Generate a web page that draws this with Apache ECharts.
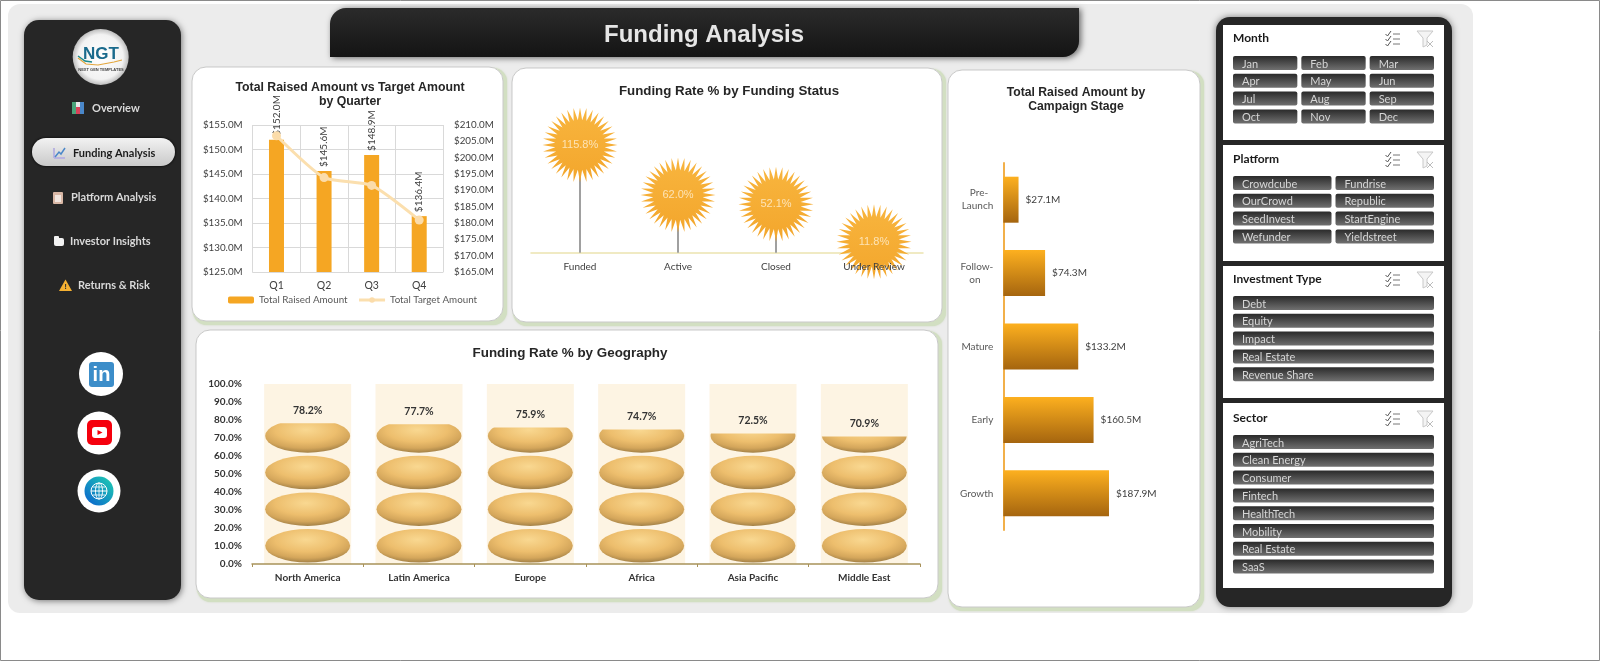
<!DOCTYPE html>
<html>
<head>
<meta charset="utf-8">
<title>Funding Analysis</title>
<script src="https://cdn.jsdelivr.net/npm/echarts@6/dist/echarts.min.js"></script>
<style>
  html, body { margin: 0; padding: 0; background: #fff; }
  #main { width: 1600px; height: 661px; }
</style>
</head>
<body>
<div id="main"></div>
<script>
const quarters = ["Q1", "Q2", "Q3", "Q4"];
const raisedByQuarter = [152.0, 145.6, 148.9, 136.4];
const targetByQuarter = [206.7, 193.9, 191.5, 180.9];

const statuses = ["Funded", "Active", "Closed", "Under Review"];
const statusRates = [115.8, 62.0, 52.1, 11.8];

const regions = ["North America", "Latin America", "Europe", "Africa", "Asia Pacific", "Middle East"];
const regionRates = [78.2, 77.7, 75.9, 74.7, 72.5, 70.9];

const stages = ["Pre-\nLaunch", "Follow-\non", "Mature", "Early", "Growth"];
const stageRaised = [27.1, 74.3, 133.2, 160.5, 187.9];

const months = ["Jan", "Feb", "Mar", "Apr", "May", "Jun", "Jul", "Aug", "Sep", "Oct", "Nov", "Dec"];
const platforms = ["Crowdcube", "Fundrise", "OurCrowd", "Republic", "SeedInvest", "StartEngine", "Wefunder", "Yieldstreet"];
const investmentTypes = ["Debt", "Equity", "Impact", "Real Estate", "Revenue Share"];
const sectors = ["AgriTech", "Clean Energy", "Consumer", "Fintech", "HealthTech", "Mobility", "Real Estate", "SaaS"];

const ORANGE = "#f5a623";
const SANS = "Liberation Sans";
const UI = "Lato";

let myChart = echarts.init(document.querySelector("#main"));

const money = (v) => "$" + v.toFixed(1) + "M";
const pct = (v) => v.toFixed(1) + "%";

// sun shape for the lollipop heads
function burstPath(points, inner) {
  let d = "";
  for (let i = 0; i < points * 2; i++) {
    let r = i % 2 === 0 ? 50 : inner;
    let a = (Math.PI * i) / points;
    d += (i ? "L" : "M") + (50 + r * Math.cos(a)).toFixed(2) + " " + (50 + r * Math.sin(a)).toFixed(2);
  }
  return "path://" + d + "Z";
}

// ---------- page furniture (graphic elements) ----------
let els = [];
const box = (x, y, w, h, r, fill, extra) =>
  els.push({ type: "rect", silent: true, shape: { x, y, width: w, height: h, r }, style: Object.assign({ fill }, extra) });
const circle = (cx, cy, r, fill, extra) =>
  els.push({ type: "circle", silent: true, shape: { cx, cy, r }, style: Object.assign({ fill }, extra) });
const line = (points, stroke, lineWidth) =>
  els.push({ type: "polyline", silent: true, shape: { points }, style: { fill: null, stroke, lineWidth: lineWidth || 1 } });
const label = (x, y, text, size, fill, weight, align, family) =>
  els.push({
    type: "text",
    silent: true,
    x,
    y,
    style: { text, fill, font: (weight || "normal") + " " + size + "px '" + (family || UI) + "'", textAlign: align || "left", textVerticalAlign: "middle" },
  });
const vgrad = (a, b) => ({ type: "linear", x: 0, y: 0, x2: 0, y2: 1, colorStops: [{ offset: 0, color: a }, { offset: 1, color: b }] });

box(0.5, 0.5, 1599, 660, 0, "#fff", { stroke: "#8a8a8a", lineWidth: 1 });
box(8, 4, 1465, 609, 12, "#ececec");

// header banner
box(330, 8, 749, 49, [16, 0, 16, 0], vgrad("#2b2b2b", "#141414"), { shadowBlur: 6, shadowColor: "#666", shadowOffsetX: 2, shadowOffsetY: 1 });
label(704, 35, "Funding Analysis", 24, "#e6e6e6", "bold", "center", SANS);

// left nav
box(24, 20, 157, 580, 15, "#262626", { shadowBlur: 6, shadowColor: "#777", shadowOffsetX: 1, shadowOffsetY: 1 });
circle(100.7, 57, 28, { type: "radial", x: 0.5, y: 0.5, r: 0.5, colorStops: [{ offset: 0, color: "#fff" }, { offset: 0.8, color: "#f2f2f2" }, { offset: 1, color: "#bdbdbd" }] });
label(101, 54, "NGT", 17, "#1a6a8c", "bold", "center", SANS);
line([[78, 58], [86, 64], [98, 65], [114, 62], [122, 60]], "#e3a63c", 1.2);
line([[78, 56], [85, 61], [92, 62]], "#1c8a8c", 1.5);
label(101, 70, "NEXT GEN TEMPLATES", 4, "#444", "bold", "center", SANS);

box(32, 138, 143, 28, 14, vgrad("#f2f2f2", "#c9c9c9"), { shadowBlur: 3, shadowColor: "#000" });
label(92, 108, "Overview", 11, "#d9d9d9", "bold");
label(73, 153, "Funding Analysis", 11, "#1c1c1c", "bold");
label(71, 197, "Platform Analysis", 11, "#d9d9d9", "bold");
label(70, 241, "Investor Insights", 11, "#d9d9d9", "bold");
label(78, 285, "Returns & Risk", 11, "#d9d9d9", "bold");

box(72, 102, 12, 12, 1, "#e8e8e8");
box(72, 102, 4, 12, 0, "#4aa37a");
box(76, 107, 4, 7, 0, "#d9425a");
box(80, 102, 4, 12, 0, "#4a87c9");
line([[54, 158], [65, 158]], "#b9b4e0", 2);
line([[54, 148], [54, 158]], "#b9b4e0", 2);
line([[55, 157], [59, 152], [61, 154], [65, 148]], "#4a87c9", 1.5);
box(53, 192, 10, 12, 1, "#d9b7a5");
box(55, 195, 6, 7, 0, "#f2e6df");
box(54, 238, 10, 8, 2, "#f2f2f2");
box(54, 236, 5, 4, 1, "#f2f2f2");
els.push({ type: "polygon", silent: true, shape: { points: [[65.5, 279.5], [72, 291], [59, 291]] }, style: { fill: "#f5b132" } });
label(65.5, 286.5, "!", 8, "#333", "bold", "center", SANS);

circle(101, 374, 22, "#fff");
box(89, 362, 25, 25, 3, "#3c8dc9");
label(101.5, 375, "in", 20, "#fff", "bold", "center", SANS);
circle(99, 433, 21.5, "#fff");
box(87, 420, 25, 25, 5, "#f5000d");
box(92, 427, 15, 11, 3, "#fff");
els.push({ type: "polygon", silent: true, shape: { points: [[97.5, 430], [102.5, 432.5], [97.5, 435]] }, style: { fill: "#f5000d" } });
circle(99, 491, 21.5, "#fff");
circle(99, 491, 14.5, { type: "linear", x: 1, y: 0, x2: 0, y2: 1, colorStops: [{ offset: 0, color: "#1fd0b0" }, { offset: 1, color: "#0a5fd0" }] });
circle(99, 491, 8, "none", { stroke: "#fff", lineWidth: 1 });
els.push({ type: "ellipse", silent: true, shape: { cx: 99, cy: 491, rx: 3.5, ry: 8 }, style: { fill: "none", stroke: "#fff", lineWidth: 1 } });
line([[91, 491], [107, 491]], "#fff", 1);
line([[92.5, 487], [105.5, 487]], "#fff", 0.8);
line([[92.5, 495], [105.5, 495]], "#fff", 0.8);
line([[99, 483], [99, 499]], "#fff", 0.8);

// chart cards, pale green edge on the right and bottom
const card = (x, y, w, h) => {
  box(x + 1, y + 1, w + 3, h + 3, 14, "#d2dfc2", { shadowBlur: 2, shadowColor: "#c8d6b6" });
  box(x, y, w, h, 14, "#fff", { stroke: "#c9c9c9", lineWidth: 1 });
};
card(192, 67, 311, 254);
card(512, 68, 430, 254);
card(196, 330, 742, 268);
card(948, 70, 252, 537);

// slicer panel
box(1216, 17, 236, 590, 14, "#262626", { shadowBlur: 7, shadowColor: "#777" });
const slicer = (name, top, bottom, titleY, firstY, cols, items) => {
  box(1223, top, 221, bottom - top, 0, "#fff");
  label(1233, titleY + 0.5, name, 12, "#1a1a1a", "bold");
  // checklist + clear filter icons
  let iy = titleY + 1;
  [-5, 0, 5].forEach((d) => {
    line([[1385.5, iy + d], [1387.5, iy + d + 2], [1391, iy + d - 3]], "#555", 1);
    line([[1393, iy + d], [1400, iy + d]], "#777", 1);
  });
  els.push({ type: "polygon", silent: true, shape: { points: [[1417, iy - 8], [1433, iy - 8], [1427, iy - 1], [1427, iy + 6], [1423, iy + 8], [1423, iy - 1]] }, style: { fill: "#f4f4f4", stroke: "#c8c8c8", lineWidth: 1 } });
  line([[1427, iy + 2], [1433, iy + 8]], "#bbb", 1);
  line([[1433, iy + 2], [1427, iy + 8]], "#bbb", 1);

  let gap = 4;
  let w = (201 - gap * (cols - 1)) / cols;
  items.forEach((txt, i) => {
    let x = 1233 + (i % cols) * (w + gap);
    let y = firstY + Math.floor(i / cols) * 17.8;
    box(x, y, w, 14, 2, vgrad("#2a2a2a", "#707070"));
    label(x + 9, y + 8, txt, 11, "#d6d6d6", "normal");
  });
};
slicer("Month", 25, 140, 38, 56, 3, months);
slicer("Platform", 145, 261, 159, 176, 2, platforms);
slicer("Investment Type", 266, 398, 279, 296, 1, investmentTypes);
slicer("Sector", 403, 588, 418, 435, 1, sectors);

// ---------- chart options ----------
const axisText = { color: "#404040", fontFamily: UI, fontSize: 9.8 };
const titleAt = (text, x, y, size) => ({
  text,
  left: x,
  top: y,
  textAlign: "center",
  padding: 0,
  textStyle: { color: "#262626", fontFamily: SANS, fontSize: size, fontWeight: "bold", lineHeight: 14, align: "center" },
});

let option = {
  animation: false,
  title: [
    titleAt("Total Raised Amount vs Target Amount\nby Quarter", 350, 81, 12.3),
    titleAt("Funding Rate % by Funding Status", 729, 84, 13.3),
    titleAt("Funding Rate % by Geography", 570, 346, 13.4),
    titleAt("Total Raised Amount by\nCampaign Stage", 1076, 86, 12.2),
  ],
  legend: {
    data: ["Total Raised Amount", "Total Target Amount"],
    left: 228,
    top: 295,
    padding: 0,
    itemWidth: 26,
    itemHeight: 7,
    itemGap: 10,
    lineStyle: { width: 3 },
    textStyle: { color: "#595959", fontFamily: UI, fontSize: 9.8 },
  },
  grid: [
    { left: 252.7, top: 125, width: 190.3, height: 147 },
    { left: 531, top: 122.5, width: 392, height: 130.2 },
    { left: 252, top: 384, width: 668, height: 180 },
    { left: 1003.3, top: 163, width: 168.75, height: 367 },
  ],
  xAxis: [
    {
      gridIndex: 0,
      type: "category",
      data: quarters,
      axisLine: { lineStyle: { color: "#d9d9d9" } },
      axisTick: { show: false },
      axisLabel: { color: "#404040", fontFamily: UI, fontSize: 10.5 },
      splitLine: { show: true, lineStyle: { color: "#d9d9d9" } },
    },
    {
      gridIndex: 1,
      type: "category",
      data: statuses,
      z: 1,
      axisLine: { lineStyle: { color: "#ece3b0", width: 1.5 } },
      axisTick: { show: false },
      axisLabel: { show: false },
    },
    {
      // second copy only for the labels, they sit on top of the suns
      gridIndex: 1,
      type: "category",
      data: statuses,
      position: "bottom",
      z: 6,
      axisLine: { show: false },
      axisTick: { show: false },
      axisLabel: { color: "#404040", fontFamily: UI, fontSize: 10, margin: 9 },
    },
    {
      gridIndex: 2,
      type: "category",
      data: regions,
      z: 4,
      axisLine: { lineStyle: { color: "#a8925a", width: 1.5 } },
      axisTick: { show: true, length: 3, lineStyle: { color: "#a8925a" } },
      axisLabel: { color: "#333", fontFamily: UI, fontSize: 10, fontWeight: "bold", margin: 9 },
    },
    { gridIndex: 3, type: "value", min: 0, max: 300, show: false },
  ],
  yAxis: [
    {
      gridIndex: 0,
      type: "value",
      min: 125,
      max: 155,
      interval: 5,
      axisLine: { show: false },
      axisTick: { show: false },
      axisLabel: Object.assign({}, axisText, { formatter: money, margin: 10 }),
      splitLine: { lineStyle: { color: "#d9d9d9" } },
    },
    {
      gridIndex: 0,
      type: "value",
      position: "right",
      min: 165,
      max: 210,
      interval: 5,
      axisLine: { show: false },
      axisTick: { show: false },
      axisLabel: Object.assign({}, axisText, { formatter: money, margin: 11 }),
      splitLine: { show: false },
    },
    { gridIndex: 1, type: "value", min: 0, max: 140, show: false },
    {
      gridIndex: 2,
      type: "value",
      min: 0,
      max: 100,
      interval: 10,
      axisLine: { show: false },
      axisTick: { show: false },
      axisLabel: { color: "#333", fontFamily: UI, fontSize: 10, fontWeight: "bold", margin: 10, formatter: pct },
      splitLine: { show: false },
    },
    {
      gridIndex: 3,
      type: "category",
      data: stages,
      inverse: true,
      axisLine: { lineStyle: { color: "#f2b04a", width: 2 } },
      axisTick: { show: false },
      axisLabel: {
        color: "#595959",
        fontFamily: UI,
        fontSize: 10,
        lineHeight: 13,
        margin: 10,
        // centre the wrapped lines within a right aligned label
        formatter: (v) => {
          let rows = v.split("\n");
          if (rows.length < 2) return v;
          let longest = Math.max(...rows.map((r) => r.length));
          return rows.map((r) => r + "\u00a0".repeat(longest - r.length)).join("\n");
        },
      },
    },
  ],
  series: [
    {
      name: "Total Raised Amount",
      type: "bar",
      xAxisIndex: 0,
      yAxisIndex: 0,
      data: raisedByQuarter,
      barWidth: 15,
      itemStyle: { color: ORANGE },
      label: { show: true, position: "top", rotate: 90, distance: 4, align: "left", verticalAlign: "middle", color: "#404040", fontFamily: UI, fontSize: 10, formatter: (p) => money(p.value) },
    },
    {
      name: "Total Target Amount",
      type: "line",
      xAxisIndex: 0,
      yAxisIndex: 1,
      data: targetByQuarter,
      smooth: 0.2,
      symbol: "circle",
      symbolSize: 9,
      lineStyle: { color: "#fbdfae", width: 3 },
      itemStyle: { color: "#fbdcaa" },
    },
    {
      type: "bar",
      xAxisIndex: 1,
      yAxisIndex: 2,
      data: statusRates,
      barWidth: 2,
      itemStyle: { color: "#a0a0a0" },
    },
    {
      type: "scatter",
      xAxisIndex: 1,
      yAxisIndex: 2,
      data: statusRates,
      symbol: burstPath(36, 33),
      symbolSize: 75,
      itemStyle: { color: vgrad("#f8b53e", "#f3a62c"), opacity: 1 },
      label: { show: true, position: "inside", color: "#fde3b5", fontFamily: SANS, fontSize: 11, formatter: (p) => pct(p.value) },
    },
    {
      // pale column behind each stack, also carries the value label
      type: "bar",
      xAxisIndex: 3,
      yAxisIndex: 3,
      data: regionRates,
      barWidth: 87,
      showBackground: true,
      backgroundStyle: { color: "#fdf4e3" },
      itemStyle: { color: "transparent" },
      label: { show: true, position: "top", distance: 7, color: "#333", fontFamily: UI, fontSize: 10.5, fontWeight: "bold", formatter: (p) => pct(p.value) },
      z: 1,
    },
    {
      type: "pictorialBar",
      xAxisIndex: 3,
      yAxisIndex: 3,
      data: regionRates,
      symbol: "circle",
      symbolRepeat: 5,
      symbolSize: [85, 33.5],
      symbolOffset: [0, -1.5],
      symbolMargin: 2.5,
      symbolBoundingData: 100,
      symbolClip: true,
      itemStyle: {
        color: {
          type: "radial",
          x: 0.48,
          y: 0.32,
          r: 0.72,
          colorStops: [
            { offset: 0, color: "#f9d891" },
            { offset: 0.5, color: "#edbe6d" },
            { offset: 0.76, color: "#d4a65b" },
            { offset: 0.95, color: "#a38147" },
            { offset: 1, color: "#8f7240" },
          ],
        },
      },
      z: 3,
    },
    {
      type: "bar",
      xAxisIndex: 4,
      yAxisIndex: 4,
      data: stageRaised,
      barWidth: 46,
      itemStyle: { color: vgrad("#fdb01f", "#a5650f") },
      label: { show: true, position: "right", distance: 7, color: "#404040", fontFamily: UI, fontSize: 10, formatter: (p) => money(p.value) },
    },
  ],
  graphic: { elements: els },
};
myChart.setOption(option);
//适配
window.addEventListener("resize", () => {
  myChart.resize();
});
</script>
</body>
</html>
